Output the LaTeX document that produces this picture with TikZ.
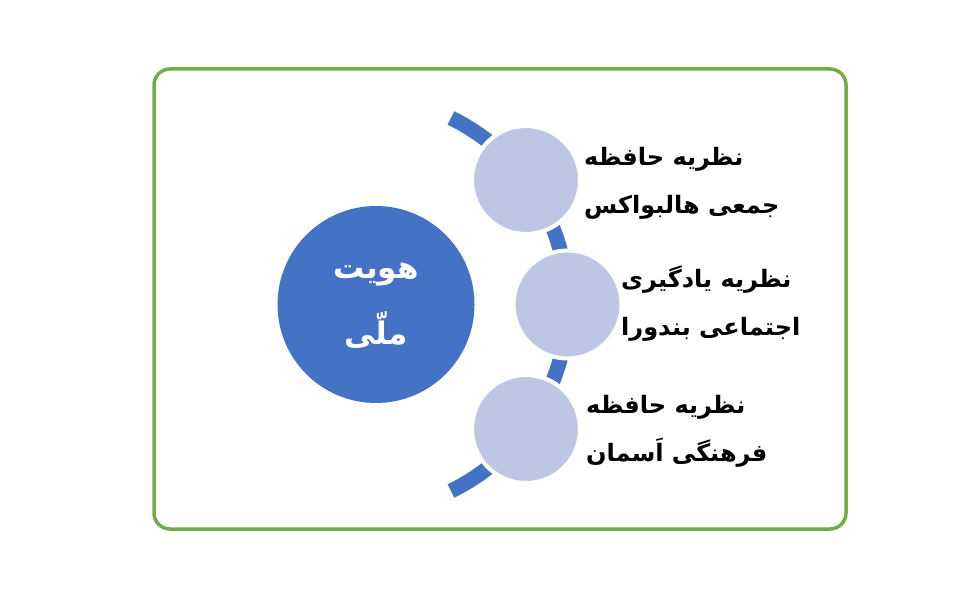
\documentclass[tikz,border=0pt]{standalone}
\usepackage{fontspec}
\TeXXeTstate=1
\newfontfamily\arabicfont[Script=Arabic]{DejaVu Sans}
\definecolor{mainblue}{HTML}{4472C4}
\definecolor{lightblue}{HTML}{BDC7E4}
\definecolor{framegreen}{HTML}{70AD47}
\tikzset{
  frame/.style={draw=framegreen, line width=3.5pt, rounded corners=16pt},
  bigcircle/.style={circle, fill=mainblue, minimum size=197pt, inner sep=0pt},
  smallcircle/.style={circle, fill=lightblue, draw=white, line width=4pt, minimum size=108pt, inner sep=0pt},
  arcline/.style={draw=mainblue, line width=15pt},
  label/.style={anchor=west, align=left, inner sep=0pt, font=\arabicfont\bfseries\fontsize{24}{48}\selectfont},
  centertext/.style={align=center, text=white, font=\arabicfont\bfseries\fontsize{31}{66}\selectfont}
}
\begin{document}
\begin{tikzpicture}[x=1pt,y=-1pt]
\useasboundingbox (0,0) rectangle (974,610);
\draw[frame] (154,69) rectangle (846,529);
\coordinate (arccenter) at (360,304.5);
\draw[arcline] ([shift={(-64:207.5)}]arccenter) arc[start angle=-64, end angle=64, radius=207.5];
\node[bigcircle] (core) at (376,304.5) {};
\node[centertext] (coretext) at (376,306) {\beginR هویت\endR\\\beginR ملّی\endR};
\node[smallcircle] (c1) at (526,180) {};
\node[smallcircle] (c2) at (567.5,304.5) {};
\node[smallcircle] (c3) at (526,429) {};
\node[label] (t1) at (584,183) {\beginR نظریه حافظه\endR\\\beginR جمعی هالبواکس\endR};
\node[label] (t2) at (621,304) {\beginR نظریه یادگیری\endR\\\beginR اجتماعی بندورا\endR};
\node[label] (t3) at (586,431) {\beginR نظریه حافظه\endR\\\beginR فرهنگی اَسمان\endR};
\end{tikzpicture}
\end{document}
